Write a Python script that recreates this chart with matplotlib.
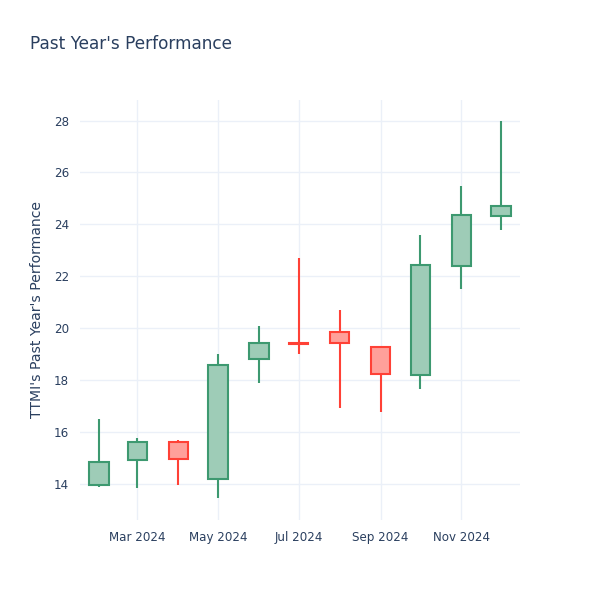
import numpy as np
import matplotlib.pyplot as plt
import matplotlib.dates as mdates
import datetime as dt

months = ["2024-02-01", "2024-03-01", "2024-04-01", "2024-05-01", "2024-06-01", "2024-07-01",
          "2024-08-01", "2024-09-01", "2024-10-01", "2024-11-01", "2024-12-01"]
opens = [13.96, 14.92, 15.62, 14.19, 18.82, 19.43, 19.86, 19.29, 18.20, 22.38, 24.33]
highs = [16.50, 15.77, 15.69, 19.00, 20.08, 22.69, 20.69, 19.29, 23.59, 25.48, 28.00]
lows = [13.88, 13.84, 13.96, 13.46, 17.90, 19.02, 16.91, 16.76, 17.67, 21.50, 23.77]
closes = [14.85, 15.63, 14.96, 18.58, 19.44, 19.38, 19.43, 18.22, 22.42, 24.35, 24.71]

tick_dates = ["2024-03-01", "2024-05-01", "2024-07-01", "2024-09-01", "2024-11-01"]
tick_labels = ["Mar 2024", "May 2024", "Jul 2024", "Sep 2024", "Nov 2024"]
yticks = [14, 16, 18, 20, 22, 24, 26, 28]

inc_line, inc_fill = "#3D9970", "#9ECCB7"
dec_line, dec_fill = "#FF4136", "#FFA09A"
txt = "#2a3f5f"
grid = "#EBF0F8"

x = mdates.date2num([dt.datetime.strptime(m, "%Y-%m-%d") for m in months])

fig = plt.figure(figsize=(6, 6), dpi=100)
ax = fig.add_axes([80/600, 80/600, 440/600, 420/600])

lw = 1.5
for xi, o, h, l, c in zip(x, opens, highs, lows, closes):
    up = c >= o
    lc = inc_line if up else dec_line
    fc = inc_fill if up else dec_fill
    top, bot = max(o, c), min(o, c)
    ax.vlines(xi, top, h, color=lc, lw=lw, zorder=2)
    ax.vlines(xi, l, bot, color=lc, lw=lw, zorder=2)
    ax.bar(xi, top - bot, bottom=bot, width=14.5, color=fc, edgecolor=lc,
           linewidth=lw, zorder=3)

ax.set_xlim(x[0] - 14.4, x[-1] + 14.4)
ax.set_ylim(12.61, 28.79)

ax.set_xticks(mdates.date2num([dt.datetime.strptime(d, "%Y-%m-%d") for d in tick_dates]))
ax.set_xticklabels(tick_labels)
ax.set_yticks(yticks)
ax.tick_params(length=0, labelsize=8.6, colors=txt, pad=8)
ax.grid(True, color=grid, lw=1)
ax.set_axisbelow(True)
for s in ax.spines.values():
    s.set_visible(False)

ax.set_ylabel("TTMI's Past Year's Performance", fontsize=10.1, color=txt, labelpad=7)
fig.text(30/600, 1 - 44/600, "Past Year's Performance", fontsize=12.2, color=txt, va="center")

fig.savefig("out.png", dpi=100, facecolor="white")
